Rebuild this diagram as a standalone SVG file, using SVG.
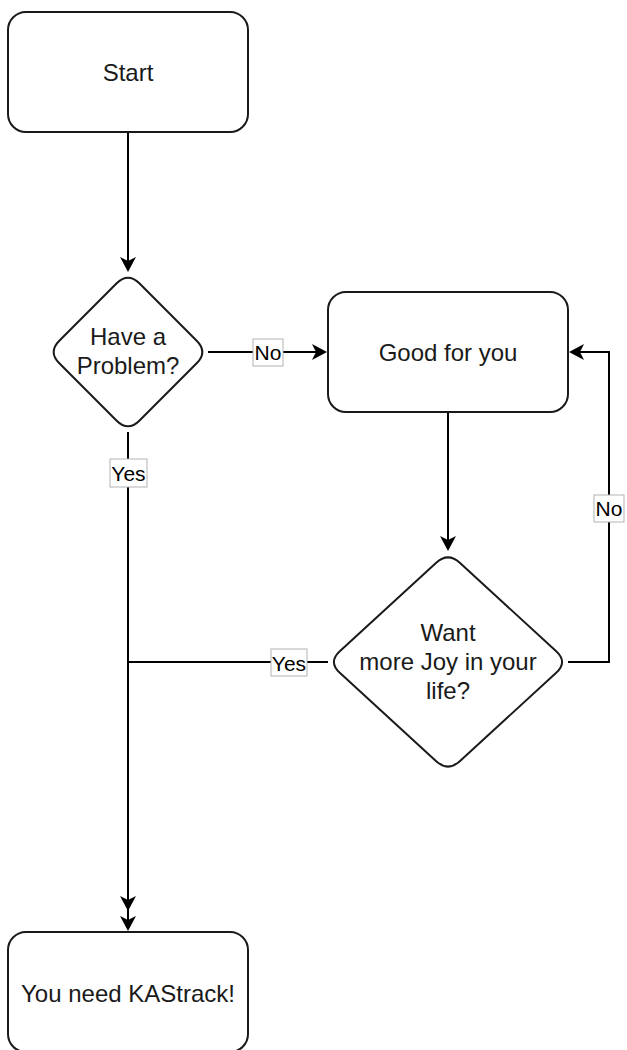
<svg xmlns="http://www.w3.org/2000/svg" width="627" height="1050" viewBox="0 0 627 1050">
<style>
.node{fill:#ffffff;stroke:#1a1a1a;stroke-width:2}
.txt{font-family:"Liberation Sans",Arial,Helvetica,sans-serif;font-size:24px;fill:#1a1a1a;text-anchor:middle}
.edge{fill:none;stroke:#000000;stroke-width:2}
.lblbox{fill:#ffffff;stroke:#b3b3b3;stroke-width:1}
.lbl{font-family:"Liberation Sans",Arial,Helvetica,sans-serif;font-size:21px;fill:#000000;text-anchor:middle}
</style>
<defs>
<marker id="arr" markerUnits="userSpaceOnUse" viewBox="-6 -9 17 18" markerWidth="17" markerHeight="18" refX="0" refY="0" orient="auto">
<path d="M10,0 L-5,-8 L-1,0 L-5,8 Z" fill="#000000"/>
</marker>
</defs>
<rect width="627" height="1050" fill="#ffffff"/>
<g id="connectors">
<path class="edge" d="M128,132 L128,262" marker-end="url(#arr)"/>
<path class="edge" d="M208,352 L317,352" marker-end="url(#arr)"/>
<path class="edge" d="M128,432 L128,921" marker-end="url(#arr)"/>
<path class="edge" d="M448,412 L448,541" marker-end="url(#arr)"/>
<path class="edge" d="M568,662 L609,662 L609,352 L579,352" marker-end="url(#arr)"/>
<path class="edge" d="M328,662 L128,662 L128,901" marker-end="url(#arr)"/>
<rect class="lblbox" x="253" y="339" width="30" height="27"/>
<text class="lbl" x="268" y="360">No</text>
<rect class="lblbox" x="110" y="459" width="37" height="28"/>
<text class="lbl" x="128.5" y="481">Yes</text>
<rect class="lblbox" x="594" y="495" width="30" height="27"/>
<text class="lbl" x="609" y="516">No</text>
<rect class="lblbox" x="271" y="649" width="36" height="27"/>
<text class="lbl" x="289" y="671">Yes</text>
</g>
<g id="start">
<rect class="node" x="8" y="12" width="240" height="120" rx="18" ry="18"/>
<text class="txt" x="128" y="81">Start</text>
</g>
<g id="problem">
<path class="node" d="M139.31,283.31 L196.69,340.69 Q208,352 196.69,363.31 L139.31,420.69 Q128,432 116.69,420.69 L59.31,363.31 Q48,352 59.31,340.69 L116.69,283.31 Q128,272 139.31,283.31 Z"/>
<text class="txt" x="128" y="345">Have a</text>
<text class="txt" x="128" y="374">Problem?</text>
</g>
<g id="good">
<rect class="node" x="328" y="292" width="240" height="120" rx="18" ry="18"/>
<text class="txt" x="448" y="361">Good for you</text>
</g>
<g id="joy">
<path class="node" d="M459.79,562.81 L556.21,651.19 Q568,662 556.21,672.81 L459.79,761.19 Q448,772 436.21,761.19 L339.79,672.81 Q328,662 339.79,651.19 L436.21,562.81 Q448,552 459.79,562.81 Z"/>
<text class="txt" x="448" y="641">Want</text>
<text class="txt" x="448" y="670">more Joy in your</text>
<text class="txt" x="448" y="699">life?</text>
</g>
<g id="kastrack">
<rect class="node" x="8" y="932" width="240" height="120" rx="18" ry="18"/>
<text class="txt" x="128" y="1002">You need KAStrack!</text>
</g>
</svg>
